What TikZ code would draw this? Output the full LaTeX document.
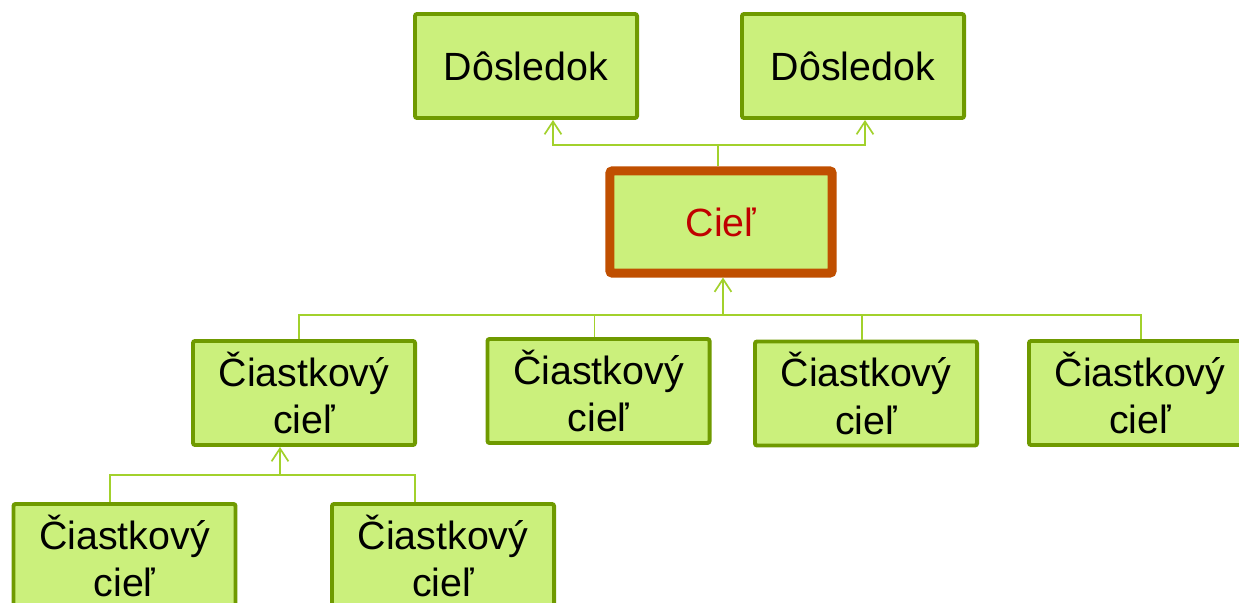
\documentclass[tikz,border=0pt]{standalone}
\usepackage{fontspec}
\setmainfont{Liberation Sans}
\usepackage{xcolor}
\usepackage{tikz}
\usetikzlibrary{arrows.meta,calc}

\definecolor{boxfill}{HTML}{CBF07C}
\definecolor{boxline}{HTML}{6F9A00}
\definecolor{goalline}{HTML}{C04F00}
\definecolor{goaltext}{HTML}{C00000}
\definecolor{linkcol}{HTML}{A2D12C}

\begin{document}
\begin{tikzpicture}[
    x=0.025cm, y=-0.025cm,
    box/.style={draw=boxline, fill=boxfill, line width=2.8pt, rounded corners=1.5pt, minimum width=5.55cm, minimum height=2.6cm, inner sep=0pt, align=center, font=\fontsize{28}{34}\selectfont},
    goal/.style={box, draw=goalline, line width=6.4pt, minimum height=2.55cm, text=goaltext},
    link/.style={draw=linkcol, line width=1.2pt},
    arr/.style={link, -{Straight Barb[length=0.32cm, width=0.42cm]}},
]
\useasboundingbox (0,0) rectangle (1239,603);
\clip (0,0) rectangle (1239,603);

% dôsledky
\node[box] (dos1) at (526, 66) {Dôsledok};
\node[box] (dos2) at (853, 66) {Dôsledok};

% cieľ
\node[goal] (ciel) at (721, 222) {Cieľ};

% čiastkové ciele
\node[box] (sub1) at (304, 393)   {Čiastkový\\cieľ};
\node[box] (sub2) at (598.5, 391) {Čiastkový\\cieľ};
\node[box] (sub3) at (866, 393.5) {Čiastkový\\cieľ};
\node[box] (sub4) at (1140, 393)  {Čiastkový\\cieľ};
\node[box] (sub5) at (124.5, 556) {Čiastkový\\cieľ};
\node[box] (sub6) at (443, 556)   {Čiastkový\\cieľ};

% spojnice
\coordinate (topjoin) at (718, 145);
\coordinate (midjoin) at (723, 315);
\coordinate (lowjoin) at (280, 475);

\draw[link] (ciel.north -| topjoin) -- (topjoin);
\draw[arr] (topjoin) -| ($(dos1.south)+(27,0)$);
\draw[arr] (topjoin) -| ($(dos2.south)+(12,0)$);

\draw[arr] (midjoin) -- (ciel.south -| midjoin);
\draw[link] ($(sub1.north)+(-5,0)$) |- (midjoin) -| ($(sub4.north)+(1,0)$);
\draw[link] ($(sub2.north)+(-4,0)$) |- (midjoin);
\draw[link] ($(sub3.north)+(-4,0)$) |- (midjoin);

\draw[arr] (lowjoin) -- (sub1.south -| lowjoin);
\draw[link] ($(sub5.north)+(-14.5,0)$) |- (lowjoin) -| ($(sub6.north)+(-28,0)$);

\end{tikzpicture}
\end{document}
